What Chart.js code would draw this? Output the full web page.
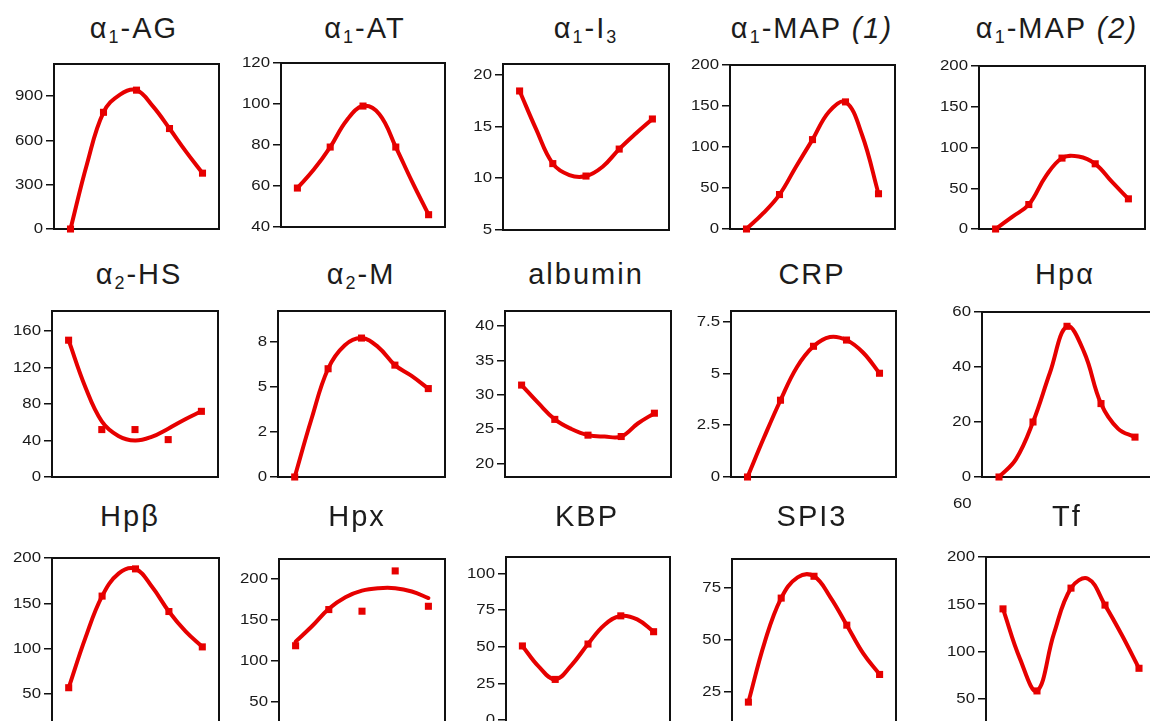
<!DOCTYPE html>
<html>
<head>
<meta charset="utf-8">
<title>Acute phase proteins</title>
<script src="https://cdn.jsdelivr.net/npm/chart.js@4.4.1/dist/chart.umd.min.js"></script>
<style>
  html, body { margin: 0; padding: 0; background: #fff; overflow: hidden; }
  #page { position: relative; width: 1150px; height: 721px; overflow: hidden; }
  #page canvas { position: absolute; }
  .title {
    position: absolute; width: 260px; text-align: center; white-space: nowrap;
    font-family: "Liberation Sans", Arial, sans-serif; font-size: 29px; line-height: 34px;
    letter-spacing: 2px; color: #1c1c1c;
  }
  .title sub { font-size: 0.62em; vertical-align: -0.3em; line-height: 0; }
  .stray {
    position: absolute; font-family: "Liberation Sans", Arial, sans-serif; font-size: 14px;
    line-height: 16px; color: #1a1a1a; transform: scaleX(1.2); transform-origin: left;
  }
</style>
</head>
<body>
<div id="page"></div>
<script>
// sampling days (markers) and the x positions of the smoothed curve
const xPoints = [0, 1, 2, 3, 4];
const xCurve = [0, 0.5, 1, 1.5, 2, 2.5, 3, 3.5, 4];

const agPoints = [0, 790, 940, 680, 378];
const agCurve = [0, 440, 790, 910, 940, 830, 680, 524, 378];
const atPoints = [59, 79, 99, 79, 46];
const atCurve = [59, 68, 79, 92, 99, 95, 79, 62, 46];
const i3Points = [18.4, 11.4, 10.2, 12.8, 15.7];
const i3Curve = [18.4, 14.7, 11.4, 10.3, 10.2, 11.1, 12.8, 14.3, 15.7];
const map1Points = [0, 42, 109, 155, 43];
const map1Curve = [0, 19, 42, 76, 109, 143, 155, 115, 43];
const map2Points = [0, 30, 87, 80, 37];
const map2Curve = [0, 15, 30, 64, 87, 89, 80, 58, 37];

const hsPoints = [150, 52, 52, 41, 72];
const hsCurve = [150, 99, 61, 45, 40, 44, 53, 63, 72];
const mPoints = [0, 6.0, 7.7, 6.2, 4.9];
const mCurve = [0, 3.2, 6.0, 7.3, 7.7, 7.2, 6.2, 5.6, 4.9];
const albPoints = [31.4, 26.4, 24.1, 23.9, 27.3];
const albCurve = [31.4, 28.8, 26.4, 25.0, 24.1, 23.9, 23.9, 25.8, 27.3];
const crpPoints = [0, 3.7, 6.3, 6.6, 5.0];
const crpCurve = [0, 1.9, 3.7, 5.3, 6.3, 6.75, 6.6, 6.0, 5.0];
const hpaPoints = [0, 20, 54.8, 26.7, 14.5];
const hpaCurve = [0, 6.5, 20, 38, 54.8, 45.5, 26.7, 17.6, 14.5];

const hpbPoints = [57, 158, 188, 141, 102];
const hpbCurve = [57, 112, 158, 183, 188, 168, 141, 119, 102];
const hpxPoints = [118, 162, 160, 209, 166];
const hpxCurve = [123, 142, 163, 177, 185, 188, 188, 184, 176];
const kbpPoints = [50.5, 27.7, 51.8, 71, 60.2];
const kbpCurve = [50.5, 36.4, 27.7, 37.5, 51.8, 64.8, 71, 68.6, 60.2];
const spiPoints = [20, 70, 80.5, 57, 33.3];
const spiCurve = [20, 49, 70, 80, 80.5, 70.4, 57, 43.4, 33.3];
const tfPoints = [145, 58, 167, 149, 82];
const tfCurve = [145, 92, 58, 119, 167, 177, 149, 117, 82];

// y tick values (and the printed text where it differs)
const agTicks = [0, 300, 600, 900];
const atTicks = [40, 60, 80, 100, 120];
const i3Ticks = [5, 10, 15, 20];
const mapTicks = [0, 50, 100, 150, 200];
const hsTicks = [0, 40, 80, 120, 160];
const mTicks = [0, 2.5, 5, 7.5];
const mTickLabels = ['0', '2', '5', '8'];
const albTicks = [20, 25, 30, 35, 40];
const crpTicks = [0, 2.5, 5, 7.5];
const hpaTicks = [0, 20, 40, 60];
const hpbTicks = [50, 100, 150, 200];
const hpxTicks = [50, 100, 150, 200];
const kbpTicks = [0, 25, 50, 75, 100];
const spiTicks = [25, 50, 75];
const tfTicks = [50, 100, 150, 200];

const RED = '#e60000';
const AXIS_W = 60, PAD_T = 12, PAD_B = 12, PAD_R = 8;

// box = [left, top, width, height] of the framed plot area, tx/ty = title centre and baseline
const panels = [
  { title: 'α<sub>1</sub>-AG', tx: 134, ty: 38, box: [54, 64, 165, 165], min: 0, max: 1117, ticks: agTicks, points: agPoints, curve: agCurve },
  { title: 'α<sub>1</sub>-AT', tx: 365, ty: 38, box: [281, 63, 164, 164], min: 40, max: 120, ticks: atTicks, points: atPoints, curve: atCurve },
  { title: 'α<sub>1</sub>-I<sub>3</sub>', tx: 586, ty: 38, box: [503, 64, 166, 166], min: 5, max: 21, ticks: i3Ticks, points: i3Points, curve: i3Curve },
  { title: 'α<sub>1</sub>-MAP <i>(1)</i>', tx: 812, ty: 38, box: [730, 65, 165, 164], min: 0, max: 200, ticks: mapTicks, points: map1Points, curve: map1Curve },
  { title: 'α<sub>1</sub>-MAP <i>(2)</i>', tx: 1057, ty: 38, box: [979, 66, 166, 163], min: 0, max: 200, ticks: mapTicks, points: map2Points, curve: map2Curve },

  { title: 'α<sub>2</sub>-HS', tx: 139, ty: 284, box: [52, 311, 166, 166], min: 0, max: 182, ticks: hsTicks, points: hsPoints, curve: hsCurve },
  { title: 'α<sub>2</sub>-M', tx: 361, ty: 284, box: [278, 311, 167, 166], min: 0, max: 9.2, ticks: mTicks, labels: mTickLabels, points: mPoints, curve: mCurve },
  { title: 'albumin', tx: 586, ty: 284, box: [505, 311, 166, 166], min: 18, max: 42.2, ticks: albTicks, points: albPoints, curve: albCurve },
  { title: 'CRP', tx: 812, ty: 284, box: [731, 311, 165, 166], min: 0, max: 8, ticks: crpTicks, points: crpPoints, curve: crpCurve },
  { title: 'Hpα', tx: 1065, ty: 284, box: [982, 312, 170, 165], min: 0, max: 60, ticks: hpaTicks, points: hpaPoints, curve: hpaCurve },

  { title: 'Hpβ', tx: 130, ty: 526, box: [52, 558, 167, 166], min: 17, max: 200, ticks: hpbTicks, points: hpbPoints, curve: hpbCurve },
  { title: 'Hpx', tx: 357, ty: 526, box: [279, 559, 166, 166], min: 21.6, max: 223.5, ticks: hpxTicks, points: hpxPoints, curve: hpxCurve },
  { title: 'KBP', tx: 587, ty: 526, box: [506, 557, 164, 166], min: -2, max: 111.1, ticks: kbpTicks, points: kbpPoints, curve: kbpCurve },
  { title: 'SPI3', tx: 812, ty: 526, box: [732, 559, 164, 166], min: 9, max: 88.8, ticks: spiTicks, points: spiPoints, curve: spiCurve },
  { title: 'Tf', tx: 1067, ty: 526, box: [986, 557, 170, 166], min: 24, max: 200, ticks: tfTicks, points: tfPoints, curve: tfCurve }
];

// black frame round the plot area
const framePlugin = {
  id: 'frame',
  beforeDatasetsDraw(chart) {
    const a = chart.chartArea, ctx = chart.ctx;
    ctx.save();
    ctx.strokeStyle = '#111';
    ctx.lineWidth = 2;
    ctx.strokeRect(a.left, a.top, a.right - a.left, a.bottom - a.top);
    ctx.restore();
  }
};

// tick labels, drawn a little wide like the original print
function tickTextPlugin(labels) {
  return {
    id: 'tickText',
    afterDraw(chart) {
      const s = chart.scales.y, ctx = chart.ctx;
      ctx.save();
      ctx.font = '14px "Liberation Sans", Arial, sans-serif';
      ctx.fillStyle = '#1a1a1a';
      ctx.textAlign = 'right';
      ctx.textBaseline = 'middle';
      s.ticks.forEach((t, i) => {
        ctx.save();
        ctx.translate(s.right - 11, s.getPixelForValue(t.value) + 0.5);
        ctx.scale(1.2, 1);
        ctx.fillText(labels[i], 0, 0);
        ctx.restore();
      });
      ctx.restore();
    }
  };
}

const page = document.getElementById('page');

panels.forEach(p => {
  const [bx, by, bw, bh] = p.box;

  const t = document.createElement('div');
  t.className = 'title';
  t.innerHTML = p.title;
  t.style.left = (p.tx - 130) + 'px';
  t.style.top = (p.ty - 26.6) + 'px';
  page.appendChild(t);

  const cv = document.createElement('canvas');
  cv.width = AXIS_W + bw + PAD_R;
  cv.height = PAD_T + bh + PAD_B;
  cv.style.left = (bx - AXIS_W) + 'px';
  cv.style.top = (by - PAD_T) + 'px';
  cv.style.width = cv.width + 'px';
  cv.style.height = cv.height + 'px';
  page.appendChild(cv);

  const labels = p.labels || p.ticks.map(v => String(v));

  new Chart(cv.getContext('2d'), {
    type: 'line',
    data: {
      datasets: [
        {
          data: xCurve.map((x, i) => ({ x: x, y: p.curve[i] })),
          borderColor: RED,
          borderWidth: 4,
          borderCapStyle: 'round',
          borderJoinStyle: 'round',
          tension: 0.4,
          pointRadius: 0,
          fill: false
        },
        {
          data: xPoints.map((x, i) => ({ x: x, y: p.points[i] })),
          showLine: false,
          pointStyle: 'rect',
          pointRadius: 5,
          pointBackgroundColor: RED,
          pointBorderWidth: 0,
          clip: false
        }
      ]
    },
    options: {
      responsive: false,
      animation: false,
      devicePixelRatio: 1,
      layout: { padding: { left: 0, right: PAD_R, top: PAD_T, bottom: PAD_B } },
      plugins: { legend: { display: false }, tooltip: { enabled: false } },
      scales: {
        x: { type: 'linear', min: -0.5, max: 4.5, display: false },
        y: {
          type: 'linear',
          min: p.min,
          max: p.max,
          afterBuildTicks: s => { s.ticks = p.ticks.map(v => ({ value: v })); },
          afterFit: s => { s.width = AXIS_W; },
          ticks: { display: false },
          border: { display: false },
          grid: { drawOnChartArea: false, drawTicks: true, tickLength: 8, color: '#111', lineWidth: 1.5 }
        }
      }
    },
    plugins: [framePlugin, tickTextPlugin(labels)]
  });
});

// loose label left over above the Tf panel
const stray = document.createElement('div');
stray.className = 'stray';
stray.textContent = '60';
stray.style.left = '953px';
stray.style.top = '495px';
page.appendChild(stray);
</script>
</body>
</html>
